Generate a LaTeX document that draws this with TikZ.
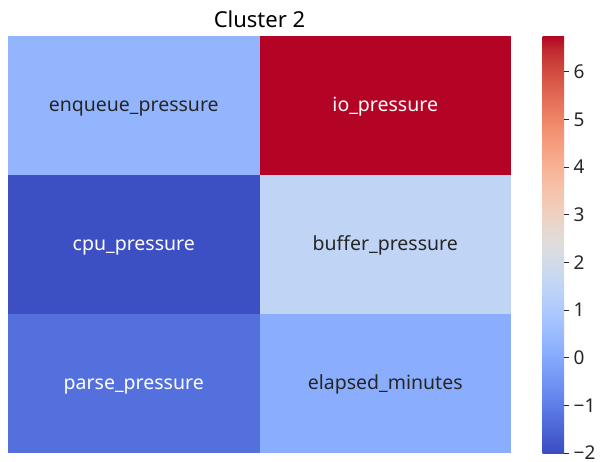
\documentclass[tikz,border=0pt]{standalone}
\usepackage{fontspec}
\setmainfont{Noto Sans}
\definecolor{cwa}{RGB}{59,76,192}
\definecolor{cwb}{RGB}{68,90,204}
\definecolor{cwc}{RGB}{77,104,215}
\definecolor{cwd}{RGB}{87,117,225}
\definecolor{cwe}{RGB}{98,130,234}
\definecolor{cwf}{RGB}{108,142,241}
\definecolor{cwg}{RGB}{119,154,247}
\definecolor{cwh}{RGB}{130,165,251}
\definecolor{cwi}{RGB}{141,176,254}
\definecolor{cwj}{RGB}{152,185,255}
\definecolor{cwk}{RGB}{163,194,255}
\definecolor{cwl}{RGB}{174,201,253}
\definecolor{cwm}{RGB}{184,208,249}
\definecolor{cwn}{RGB}{194,213,244}
\definecolor{cwo}{RGB}{204,217,238}
\definecolor{cwp}{RGB}{213,219,230}
\definecolor{cwq}{RGB}{221,221,221}
\definecolor{cwr}{RGB}{229,216,209}
\definecolor{cws}{RGB}{236,211,197}
\definecolor{cwt}{RGB}{241,204,185}
\definecolor{cwu}{RGB}{245,196,173}
\definecolor{cwv}{RGB}{247,187,160}
\definecolor{cww}{RGB}{247,177,148}
\definecolor{cwx}{RGB}{247,166,135}
\definecolor{cwy}{RGB}{244,154,123}
\definecolor{cwz}{RGB}{241,141,111}
\definecolor{cwA}{RGB}{236,127,99}
\definecolor{cwB}{RGB}{229,112,88}
\definecolor{cwC}{RGB}{222,96,77}
\definecolor{cwD}{RGB}{213,80,66}
\definecolor{cwE}{RGB}{203,62,56}
\definecolor{cwF}{RGB}{192,40,47}
\definecolor{cwG}{RGB}{180,4,38}
\pgfdeclareverticalshading{coolwarm}{100bp}{color(0bp)=(cwa); color(25bp)=(cwa);
 color(26.5625bp)=(cwb); color(28.125bp)=(cwc); color(29.6875bp)=(cwd); color(31.25bp)=(cwe);
 color(32.8125bp)=(cwf); color(34.375bp)=(cwg); color(35.9375bp)=(cwh); color(37.5bp)=(cwi);
 color(39.0625bp)=(cwj); color(40.625bp)=(cwk); color(42.1875bp)=(cwl); color(43.75bp)=(cwm);
 color(45.3125bp)=(cwn); color(46.875bp)=(cwo); color(48.4375bp)=(cwp); color(50bp)=(cwq);
 color(51.5625bp)=(cwr); color(53.125bp)=(cws); color(54.6875bp)=(cwt); color(56.25bp)=(cwu);
 color(57.8125bp)=(cwv); color(59.375bp)=(cww); color(60.9375bp)=(cwx); color(62.5bp)=(cwy);
 color(64.0625bp)=(cwz); color(65.625bp)=(cwA); color(67.1875bp)=(cwB); color(68.75bp)=(cwC);
 color(70.3125bp)=(cwD); color(71.875bp)=(cwE); color(73.4375bp)=(cwF); color(75bp)=(cwG);
 color(100bp)=(cwG)}
\definecolor{cenq}{RGB}{147,181,254}
\definecolor{cio}{RGB}{180,4,38}
\definecolor{ccpu}{RGB}{60,80,196}
\definecolor{cbuf}{RGB}{192,212,245}
\definecolor{cparse}{RGB}{84,112,221}
\definecolor{celap}{RGB}{138,173,253}
\definecolor{darktxt}{RGB}{38,38,38}
\begin{document}
\begin{tikzpicture}[x=1pt,y=-1pt,
  cell/.style={inner sep=0pt, outer sep=0pt, minimum width=251.5pt, minimum height=139pt, text height=12pt, text depth=0pt, font=\fontsize{19.5}{23}\selectfont},
  darklabel/.style={text=darktxt},
  lightlabel/.style={text=white},
  tickmark/.style={line width=0.8pt, draw=darktxt},
  ticklabel/.style={anchor=west, inner sep=0pt, text=darktxt, font=\fontsize{19}{22}\selectfont},
  titlestyle/.style={anchor=base, inner sep=0pt, text=black, font=\fontsize{22}{26}\selectfont}]
\useasboundingbox (0,0) rectangle (605,461);
% heatmap cells
\node[cell, fill=cenq, darklabel] (enq) at (133.75,105.5) {enqueue\_pressure};
\node[cell, fill=cio, lightlabel] (io) at (385.25,105.5) {io\_pressure};
\node[cell, fill=ccpu, lightlabel] (cpu) at (133.75,244.5) {cpu\_pressure};
\node[cell, fill=cbuf, darklabel] (buf) at (385.25,244.5) {buffer\_pressure};
\node[cell, fill=cparse, lightlabel] (parse) at (133.75,383.5) {parse\_pressure};
\node[cell, fill=celap, darklabel] (elap) at (385.25,383.5) {elapsed\_minutes};
% title
\node[titlestyle] (title) at (259.5,27) {Cluster 2};
% colorbar
\shade[shading=coolwarm] (542.7,36) rectangle (564,453);
\foreach \v/\lab in {-2/{−2},-1/{−1},0/0,1/1,2/2,3/3,4/4,5/5,6/6}{
  \pgfmathsetmacro{\yy}{453-(\v+2)/8.75*417}
  \coordinate (t\v) at (564,\yy);
  \draw[tickmark] (t\v) -- ++(5,0) coordinate (e\v);
  \node[ticklabel] (l\v) at ([xshift=4.5pt]e\v) {\lab};
}
\end{tikzpicture}
\end{document}
